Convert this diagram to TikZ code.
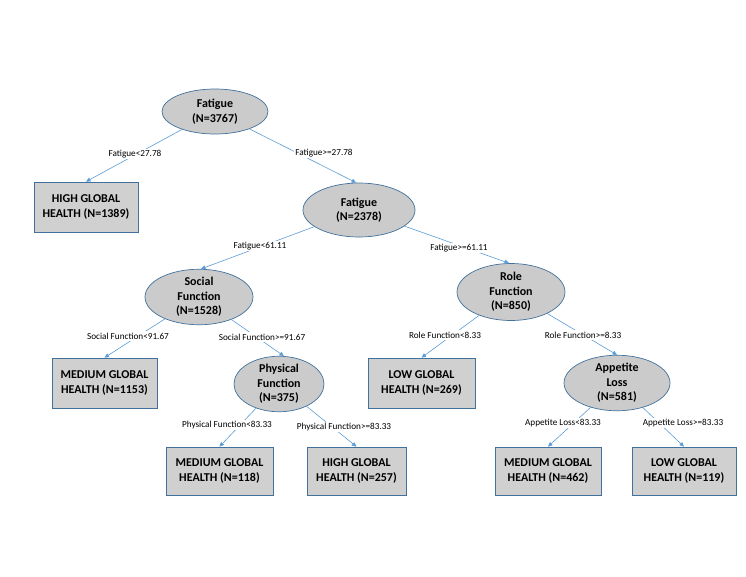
\documentclass[tikz,border=0pt]{standalone}
\usepackage{fontspec}
\setmainfont{Carlito}
\usetikzlibrary{arrows.meta,shapes.geometric}
\definecolor{edgeblue}{HTML}{5B9BD5}
\definecolor{bordblue}{HTML}{41719C}
\definecolor{ellgray}{HTML}{CBCBCB}
\definecolor{boxgray}{HTML}{D0D0D0}
\tikzset{
  splitnode/.style={ellipse, draw=bordblue, fill=ellgray, line width=0.7pt, inner sep=0pt,
    align=center, font=\bfseries\fontsize{12}{14.5}\selectfont},
  leafbox/.style={rectangle, draw=bordblue, fill=boxgray, line width=0.7pt, inner sep=0pt,
    align=center, font=\bfseries\fontsize{12}{14.5}\selectfont},
  conn/.style={draw=edgeblue, line width=0.6pt, -{Triangle[length=4.5pt,width=4pt]}},
  cond/.style={fill=white, inner sep=1.5pt, font=\fontsize{9.2}{11}\selectfont}
}
\begin{document}
\begin{tikzpicture}[x=1pt,y=-1pt]
\useasboundingbox (0,0) rectangle (746,576);
% split nodes
\node[splitnode, minimum width=106pt, minimum height=45pt] (root) at (215,111.5) {Fatigue\\(N=3767)};
\node[splitnode, minimum width=112pt, minimum height=54pt] (f2) at (359,210) {Fatigue\\(N=2378)};
\node[splitnode, minimum width=108pt, minimum height=54pt] (social) at (199,297) {Social\\Function\\(N=1528)};
\node[splitnode, minimum width=108pt, minimum height=57pt] (role) at (511,292) {Role\\Function\\(N=850)};
\node[splitnode, minimum width=90pt, minimum height=53pt] (phys) at (279,384) {Physical\\Function\\(N=375)};
\node[splitnode, minimum width=106pt, minimum height=55pt] (app) at (617,383) {Appetite\\Loss\\(N=581)};
% leaves
\node[leafbox, minimum width=104pt, minimum height=50pt] (high1389) at (86,207) {HIGH GLOBAL\\HEALTH (N=1389)};
\node[leafbox, minimum width=105pt, minimum height=50pt] (med1153) at (104.5,383) {MEDIUM GLOBAL\\HEALTH (N=1153)};
\node[leafbox, minimum width=107pt, minimum height=50pt] (low269) at (421.5,383) {LOW GLOBAL\\HEALTH (N=269)};
\node[leafbox, minimum width=107pt, minimum height=48pt] (med118) at (219.5,471) {MEDIUM GLOBAL\\HEALTH (N=118)};
\node[leafbox, minimum width=99pt, minimum height=48pt] (high257) at (356.5,471) {HIGH GLOBAL\\HEALTH (N=257)};
\node[leafbox, minimum width=106pt, minimum height=48pt] (med462) at (548,471) {MEDIUM GLOBAL\\HEALTH (N=462)};
\node[leafbox, minimum width=104pt, minimum height=48pt] (low119) at (684,471) {LOW GLOBAL\\HEALTH (N=119)};
% connectors
\draw[conn] (root) -- (high1389.north);
\draw[conn] (root) -- (f2.96);
\draw[conn] (f2) -- (social.86);
\draw[conn] (f2) -- (role.94);
\draw[conn] (social) -- (med1153.north);
\draw[conn] (social) -- (phys.80);
\draw[conn] (phys) -- (med118.north);
\draw[conn] (phys) -- (high257.north);
\draw[conn] (role) -- (low269.north);
\draw[conn] (role) -- (app.north);
\draw[conn] (app) -- (med462.north);
\draw[conn] (app) -- (low119.north);
% condition labels
\node[cond] (c1) at (135,154) {Fatigue<27.78};
\node[cond] (c2) at (324,153) {Fatigue>=27.78};
\node[cond] (c3) at (260,246) {Fatigue<61.11};
\node[cond] (c4) at (459,248) {Fatigue>=61.11};
\node[cond] (c5) at (128,336) {Social Function<91.67};
\node[cond] (c6) at (262,337) {Social Function>=91.67};
\node[cond] (c7) at (227,425) {Physical Function<83.33};
\node[cond] (c8) at (344,427) {Physical Function>=83.33};
\node[cond] (c9) at (445,335) {Role Function<8.33};
\node[cond] (c10) at (583,335) {Role Function>=8.33};
\node[cond] (c11) at (563,423) {Appetite Loss<83.33};
\node[cond] (c12) at (683,423) {Appetite Loss>=83.33};
\end{tikzpicture}
\end{document}
